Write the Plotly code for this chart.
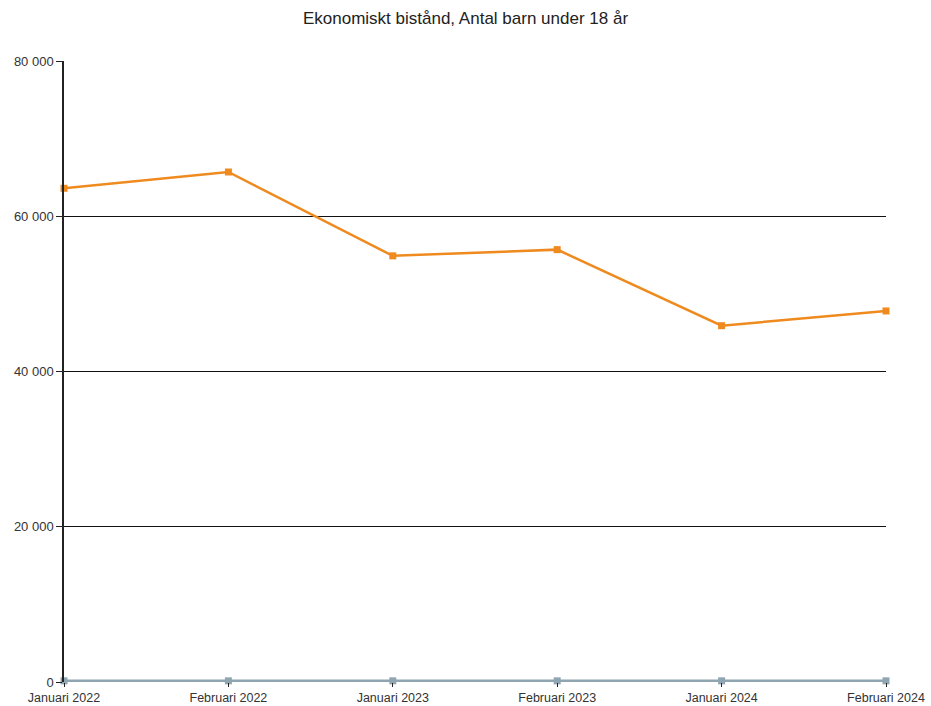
import plotly.graph_objects as go

categories = ["Januari 2022", "Februari 2022", "Januari 2023", "Februari 2023", "Januari 2024", "Februari 2024"]
barn_varden = [63600, 65700, 54900, 55700, 45900, 47800]
ovriga_varden = [150, 150, 150, 150, 150, 150]
y_ticks = [0, 20000, 40000, 60000, 80000]

fig = go.Figure()
fig.add_trace(go.Scatter(
    x=categories, y=ovriga_varden, mode="lines+markers",
    line=dict(color="#8fa6b2", width=2.5),
    marker=dict(symbol="square", size=7, color="#8fa6b2"),
    cliponaxis=False, showlegend=False,
))
fig.add_trace(go.Scatter(
    x=categories, y=barn_varden, mode="lines+markers",
    line=dict(color="#ef8a1f", width=2.5),
    marker=dict(symbol="square", size=7, color="#ef8a1f"),
    cliponaxis=False, showlegend=False,
))

fig.update_layout(
    width=931, height=706,
    margin=dict(l=64, r=45, t=61, b=24),
    paper_bgcolor="white", plot_bgcolor="white",
    separators=", ",
    font=dict(family="Liberation Sans, Arial, sans-serif", size=13, color="#333333"),
    title=dict(text="Ekonomiskt bistånd, Antal barn under 18 år", x=0.5, xanchor="center",
               y=0.975, yanchor="middle", font=dict(size=17, color="#222222")),
    xaxis=dict(type="category", range=[0, 5], showgrid=False, showline=False,
               ticks="outside", ticklen=4, tickcolor="#222222", tickwidth=1,
               tickfont=dict(size=12.5, color="#333333"), zeroline=False, automargin=False),
    yaxis=dict(range=[0, 80000], tickvals=y_ticks, tickformat=",d",
               showgrid=True, gridcolor="#111111", gridwidth=1,
               showline=True, linecolor="#222222", linewidth=1.5,
               ticks="outside", ticklen=6, tickcolor="#222222",
               tickfont=dict(size=13, color="#333333"), zeroline=False, automargin=False),
)

fig.write_html("out.html", config={"displayModeBar": False},
               post_script="document.body.style.margin='0';")
